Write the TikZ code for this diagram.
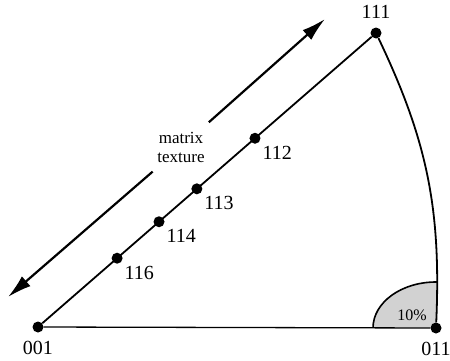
\documentclass[tikz,border=0pt]{standalone}
\usepackage{fontspec}
\setmainfont{Liberation Serif}
\usetikzlibrary{arrows.meta,calc,backgrounds}

\begin{document}
\begin{tikzpicture}[
  x=1pt, y=1pt,
  font=\fontsize{20}{22}\selectfont,
  >={Latex[length=24pt,width=13pt]},
  pole/.style={circle, fill=black, minimum size=11pt, inner sep=0pt},
  edge/.style={line width=1.8pt},
  texture/.style={->, line width=2.2pt, shorten <=9pt},
  note/.style={align=center, font=\fontsize{17}{19}\selectfont}
]
\useasboundingbox (0,0) rectangle (450,360);

% Corners of the standard triangle.
\node[pole, label={[label distance=5pt]below:001}] (p001) at (38,33) {};
\node[pole, label={[label distance=5pt]below:011}] (p011) at (436,32) {};
\node[pole, label={[label distance=5pt]above:111}] (p111) at (376,327) {};

\draw[edge] (p001) -- (p111);
\draw[edge] (p111) to[bend left=14] (p011);
\draw[edge, line width=1.3pt] (p001) -- (p011);

% Orientations along the 001-111 line.
\node[pole, label={[label distance=0pt]below right:116}] (p116) at ($(p001)!0.234!(p111)$) {};
\node[pole, label={[label distance=0pt]below right:114}] (p114) at ($(p001)!0.358!(p111)$) {};
\node[pole, label={[label distance=0pt]below right:113}] (p113) at ($(p001)!0.470!(p111)$) {};
\node[pole, label={[label distance=0pt]below right:112}] (p112) at ($(p001)!0.642!(p111)$) {};

% Shaded corner at 011.
\begin{scope}[on background layer]
  \clip (p001.center) -- (p011.center) to[bend right=14] (p111.center) -- cycle;
  \filldraw[fill=gray!35, line width=1.6pt] (p011.center) ellipse[x radius=63pt, y radius=46pt];
\end{scope}
\node[font=\fontsize{16}{18}\selectfont] (pct) at (412,45) {10\%};

% Matrix texture arrow.
\node[note] (mt) at (181,213) {matrix\\texture};
\coordinate (upTip) at (325,341);
\coordinate (lowTip) at (8,63);
\draw[texture] (mt) -- (upTip);
\draw[texture] (mt) -- (lowTip);

\end{tikzpicture}
\end{document}
